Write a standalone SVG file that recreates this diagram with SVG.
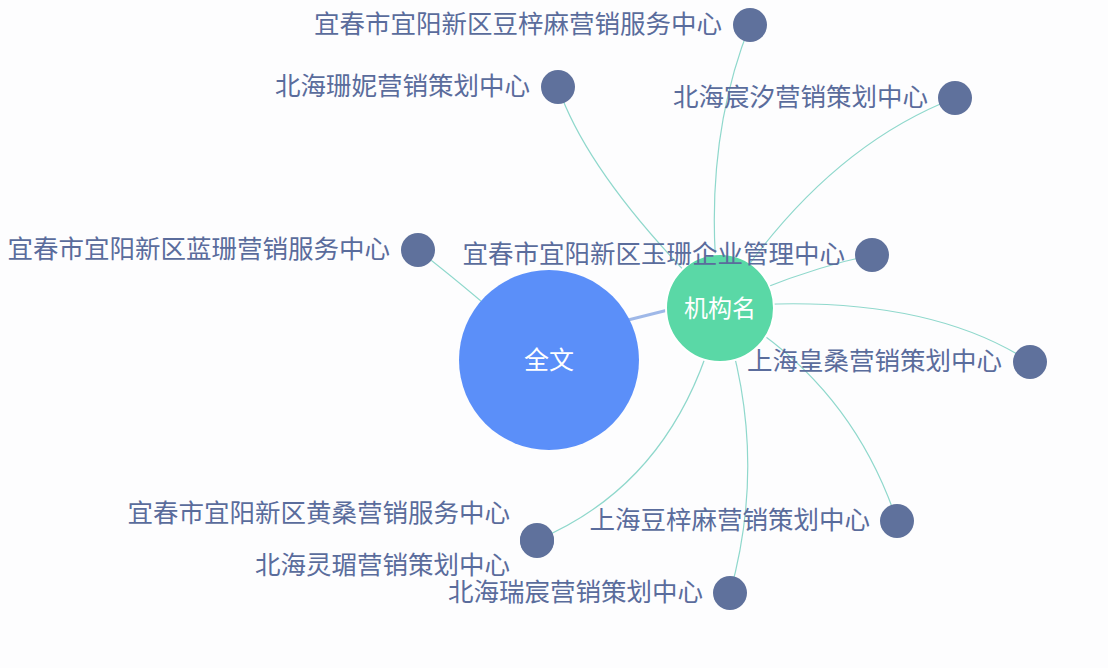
<svg xmlns="http://www.w3.org/2000/svg" width="1108" height="668" viewBox="0 0 1108 668">
<style>
.e{fill:none;stroke:#8fd8cc;stroke-width:1.2}
.leaf{fill:#5f719c}
.t{font-family:"Noto Sans CJK SC","Liberation Sans",sans-serif;font-size:25.5px;fill:#5a6c9c;text-anchor:end}
.c{font-family:"Noto Sans CJK SC","Liberation Sans",sans-serif;fill:#fff;text-anchor:middle}
</style>
<rect width="1108" height="668" fill="#fdfdfe"/>
<g id="edges">
<path class="e" d="M720,307 Q700,150 750,25"/>
<path class="e" d="M720,307 Q590,180 558,87"/>
<path class="e" d="M720,307 Q820,150 955,98"/>
<path class="e" d="M549,360 Q470,290 418,250" stroke="#a8d8e0"/>
<path class="e" d="M720,307 Q800,270 872,255"/>
<path class="e" d="M720,307 Q920,290 1030,362"/>
<path class="e" d="M720,307 Q850,380 897,521"/>
<path class="e" d="M720,307 Q680,480 537,540"/>
<path class="e" d="M720,307 Q770,450 730,593"/>
<path d="M620,322 L668,310" stroke="#9fb8e8" stroke-width="3" fill="none"/>
</g>
<g id="n_quanwen"><circle cx="549" cy="360" r="90" fill="#5b8ff9"/><text class="c" x="549" y="369" font-size="25">全文</text></g>
<g id="n_jigou"><circle cx="720" cy="308" r="54" fill="#5ad8a6" stroke="#fff" stroke-width="2"/><text class="c" x="720" y="317" font-size="24">机构名</text></g>
<g id="n1"><circle class="leaf" cx="750" cy="25" r="17"/><text class="t" x="722" y="33">宜春市宜阳新区豆梓麻营销服务中心</text></g>
<g id="n2"><circle class="leaf" cx="558" cy="87" r="17"/><text class="t" x="530" y="95">北海珊妮营销策划中心</text></g>
<g id="n3"><circle class="leaf" cx="955" cy="98" r="17"/><text class="t" x="928" y="106">北海宸汐营销策划中心</text></g>
<g id="n4"><circle class="leaf" cx="418" cy="250" r="17"/><text class="t" x="390" y="258">宜春市宜阳新区蓝珊营销服务中心</text></g>
<g id="n5"><circle class="leaf" cx="872" cy="255" r="17"/><text class="t" x="845" y="263">宜春市宜阳新区玉珊企业管理中心</text></g>
<g id="n6"><circle class="leaf" cx="1030" cy="362" r="17"/><text class="t" x="1002" y="370">上海皇桑营销策划中心</text></g>
<g id="n7"><circle class="leaf" cx="897" cy="521" r="17"/><text class="t" x="870" y="529">上海豆梓麻营销策划中心</text></g>
<g id="n8"><circle class="leaf" cx="537" cy="540" r="17"/><text class="t" x="510" y="522">宜春市宜阳新区黄桑营销服务中心</text></g>
<g id="n9"><circle class="leaf" cx="537" cy="541" r="17"/><text class="t" x="510" y="574">北海灵瑂营销策划中心</text></g>
<g id="n10"><circle class="leaf" cx="730" cy="593" r="17"/><text class="t" x="703" y="601">北海瑞宸营销策划中心</text></g>
</svg>
